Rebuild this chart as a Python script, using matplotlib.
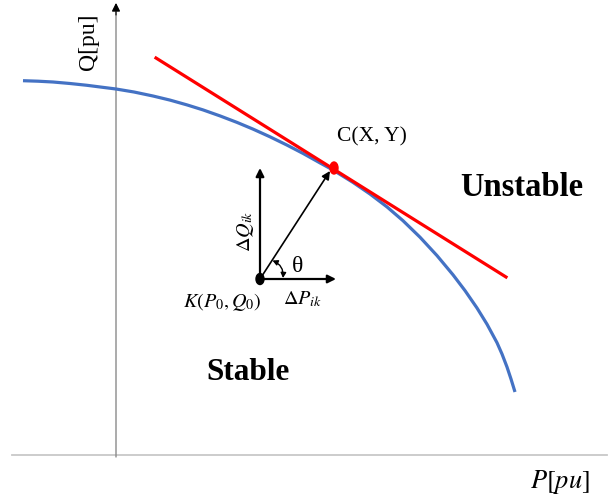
import matplotlib
matplotlib.use("Agg")
import matplotlib.pyplot as plt
from matplotlib.patches import Ellipse, FancyArrowPatch

# ---- data (P, Q in pu) ----
curve_P = [-0.93, -0.78, -0.63, -0.46, -0.29, -0.15, 0.00, 0.18, 0.37, 0.54, 0.71, 0.87,
           1.04, 1.21, 1.37, 1.54, 1.71, 1.87, 2.04, 2.17, 2.37, 2.54, 2.71, 2.87,
           3.04, 3.21, 3.37, 3.49, 3.61, 3.71, 3.81, 3.86, 3.91, 3.95, 3.99]
curve_Q = [3.743, 3.738, 3.730, 3.715, 3.697, 3.679, 3.660, 3.630, 3.590, 3.549, 3.501, 3.451,
           3.391, 3.326, 3.259, 3.182, 3.099, 3.016, 2.921, 2.850, 2.726, 2.610, 2.481, 2.343,
           2.178, 1.994, 1.802, 1.644, 1.470, 1.308, 1.123, 1.010, 0.880, 0.760, 0.630]
tangent_P = [0.40, 3.90]
tangent_Q = [3.97, 1.78]
point_C = (2.18, 2.87)
point_K = (1.44, 1.76)
dQ_end = (1.44, 2.87)
dP_end = (2.20, 1.76)
diag_end = (2.14, 2.84)
axis_P = [-1.04, 4.91]
axis_Q_top = 4.52

plt.rcParams['mathtext.fontset'] = 'stix'
serif = ['Liberation Serif', 'DejaVu Serif']

fig = plt.figure(figsize=(6.08, 4.95), dpi=100)
ax = fig.add_axes([0, 0, 1, 1])
ax.set_xlim(-1.16, 4.92)
ax.set_ylim(-0.40, 4.55)
ax.axis('off')

# axes of the diagram
ax.plot(axis_P, [0, 0], color='#c8c8c8', lw=1.3, zorder=1)
ax.annotate('', xy=(0, axis_Q_top), xytext=(0, -0.02),
            arrowprops=dict(arrowstyle='-|>', color='#8a8a8a', lw=1.0,
                            mutation_scale=12, shrinkA=0, shrinkB=0), zorder=1)
ax.annotate('', xy=(0, axis_Q_top), xytext=(0, axis_Q_top - 0.12),
            arrowprops=dict(arrowstyle='-|>', color='black', lw=0.8,
                            mutation_scale=12, shrinkA=0, shrinkB=0), zorder=2)

# curve and tangent
ax.plot(curve_P, curve_Q, color='#4472C4', lw=2.3, solid_capstyle='butt',
        solid_joinstyle='round', zorder=3)
ax.plot(tangent_P, tangent_Q, color='#FF0000', lw=2.3, zorder=4)

# vectors
arrow_kw = dict(arrowstyle='-|>', color='black', mutation_scale=12, shrinkA=0, shrinkB=0)
ax.annotate('', xy=dQ_end, xytext=point_K, arrowprops=dict(lw=1.6, **arrow_kw), zorder=5)
ax.annotate('', xy=dP_end, xytext=point_K, arrowprops=dict(lw=1.6, **arrow_kw), zorder=5)
ax.annotate('', xy=diag_end, xytext=point_K, arrowprops=dict(lw=1.2, **arrow_kw), zorder=5)

# angle arc
arc = FancyArrowPatch((point_K[0] + 0.125, point_K[1] + 0.185), (point_K[0] + 0.23, point_K[1] + 0.01),
                      connectionstyle='arc3,rad=-0.35',
                      arrowstyle='<|-|>,head_length=3,head_width=1.6',
                      color='black', lw=1.0, shrinkA=0, shrinkB=0, zorder=5)
ax.add_patch(arc)

# points
ax.add_patch(Ellipse(point_C, 0.08, 0.12, color='#FF0000', zorder=6))
ax.add_patch(Ellipse(point_K, 0.08, 0.11, color='black', zorder=6))

# texts
ax.text(-0.28, 4.13, 'Q[pu]', rotation=90, ha='center', va='center', fontsize=17, family=serif)
ax.text(2.56, 3.18, 'C(X, Y)', ha='center', va='center', fontsize=15.5, family=serif)
ax.text(4.06, 2.68, 'Unstable', ha='center', va='center', fontsize=23.5, fontweight='bold', family=serif)
ax.text(1.32, 0.82, 'Stable', ha='center', va='center', fontsize=22.5, fontweight='bold', family=serif)
ax.text(1.06, 1.53, r'$K(P_0, Q_0)$', ha='center', va='center', fontsize=14.5)
ax.text(1.87, 1.56, r'$\Delta P_{ik}$', ha='center', va='center', fontsize=14.5)
ax.text(1.29, 2.24, r'$\Delta Q_{ik}$', rotation=90, ha='center', va='center', fontsize=14.5)
ax.text(1.82, 1.89, 'θ', ha='center', va='center', fontsize=17, family=serif)
ax.text(4.44, -0.27, r'$P[pu]$', ha='center', va='center', fontsize=19)

fig.savefig('out.png', dpi=100)
